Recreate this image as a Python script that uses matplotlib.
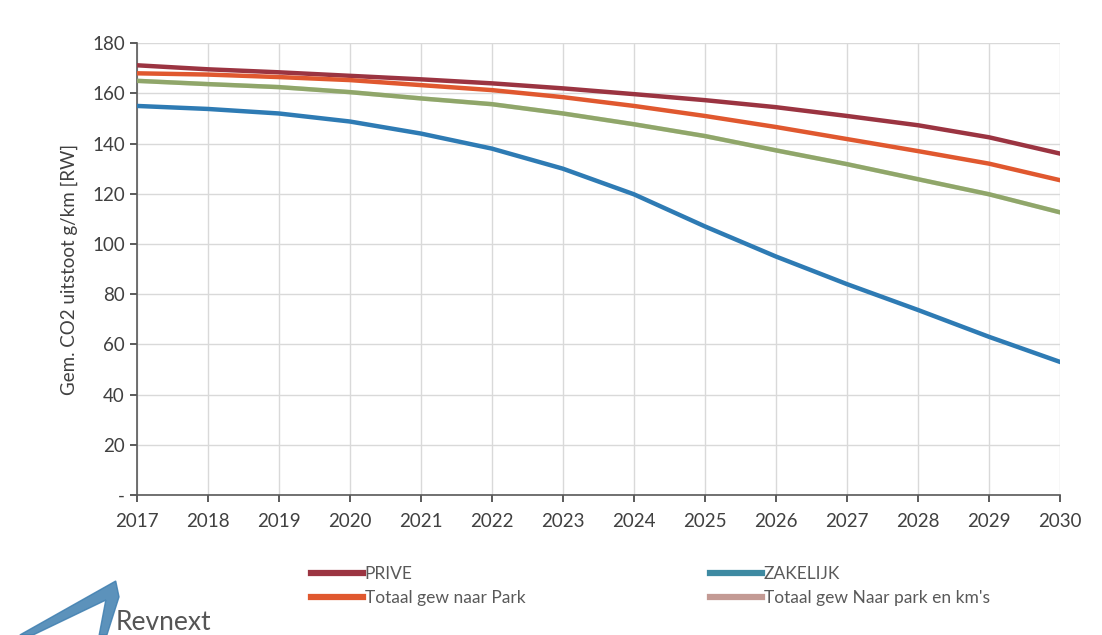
import numpy as np
import matplotlib.pyplot as plt
from matplotlib.patches import Polygon

plt.rcParams['font.family'] = ['Lato', 'DejaVu Sans']

# data
years = [2017, 2018, 2019, 2020, 2021, 2022, 2023, 2024, 2025, 2026, 2027, 2028, 2029, 2030]
prive = [171.2, 169.6, 168.4, 167.0, 165.6, 164.0, 162.0, 159.7, 157.3, 154.5, 151.0, 147.3, 142.5, 136.0]
zakelijk = [155.0, 153.8, 152.0, 148.8, 144.0, 138.0, 130.0, 119.8, 107.0, 95.0, 84.0, 73.7, 63.0, 53.0]
totaal_park = [168.0, 167.5, 166.5, 165.3, 163.3, 161.3, 158.5, 155.0, 151.0, 146.6, 141.8, 137.0, 132.0, 125.4]
totaal_park_km = [165.0, 163.7, 162.5, 160.5, 158.0, 155.7, 152.0, 147.7, 143.0, 137.3, 131.8, 125.8, 119.8, 112.6]

fig = plt.figure(figsize=(11.02, 6.35), dpi=100)
ax = fig.add_axes([0.124, 0.2205, 0.838, 0.7115])

lw = 3.2
ax.plot(years, prive, color='#9b3441', lw=lw, zorder=4)
ax.plot(years, zakelijk, color='#2e7bb4', lw=lw, zorder=4)
ax.plot(years, totaal_park, color='#e0582f', lw=lw, zorder=4)
# the km's series sits on top of a green one in the original
ax.plot(years, totaal_park_km, color='#7fab5c', lw=lw, zorder=3)
ax.plot(years, totaal_park_km, color='#c39a94', lw=lw, alpha=0.25, zorder=4)

ax.set_xlim(2017, 2030)
ax.set_ylim(0, 180)
ax.set_xticks(years)
ax.set_yticks(range(0, 181, 20))
ax.set_yticklabels(['-'] + [str(v) for v in range(20, 181, 20)])
ax.grid(True, color='#d9d9d9', lw=1)
ax.set_axisbelow(True)

for s in ['top', 'right']:
    ax.spines[s].set_visible(False)
for s in ['left', 'bottom']:
    ax.spines[s].set_color('#595959')
    ax.spines[s].set_linewidth(1.2)
ax.tick_params(axis='both', labelsize=13.5, colors='#404040', length=5, width=1.2,
               direction='out')
ax.tick_params(axis='x', pad=8)
ax.set_ylabel('Gem. CO2 uitstoot g/km [RW]', fontsize=13.5, color='#404040', labelpad=10)

# legend, two columns below the axes
leg_kw = dict(frameon=False, fontsize=12.5, handlelength=3.0, handletextpad=0.1,
              labelspacing=0.45, labelcolor='#595959', loc='upper left')
h_prive = plt.Line2D([], [], color='#9b3441', lw=4.5)
h_park = plt.Line2D([], [], color='#e0582f', lw=4.5)
h_zak = plt.Line2D([], [], color='#3e8aa2', lw=4.5)
h_km = plt.Line2D([], [], color='#c39a94', lw=4.5)
fig.legend(handles=[h_prive, h_park], labels=['PRIVE', 'Totaal gew naar Park'],
           bbox_to_anchor=(0.268, 0.133), **leg_kw)
fig.legend(handles=[h_zak, h_km], labels=['ZAKELIJK', "Totaal gew Naar park en km's"],
           bbox_to_anchor=(0.63, 0.133), **leg_kw)

# Revnext logo
logo = Polygon([[0.018, 0.0], [0.105, 0.085], [0.108, 0.06], [0.097, 0.0], [0.09, 0.0],
                [0.096, 0.055], [0.03, 0.0]], closed=True, transform=fig.transFigure,
               color='#3f7fb0', alpha=0.85)
fig.patches.append(logo)
fig.text(0.105, 0.0, 'Revnext', fontsize=19, color='#555555', va='bottom')

fig.savefig('out.png', dpi=100)
